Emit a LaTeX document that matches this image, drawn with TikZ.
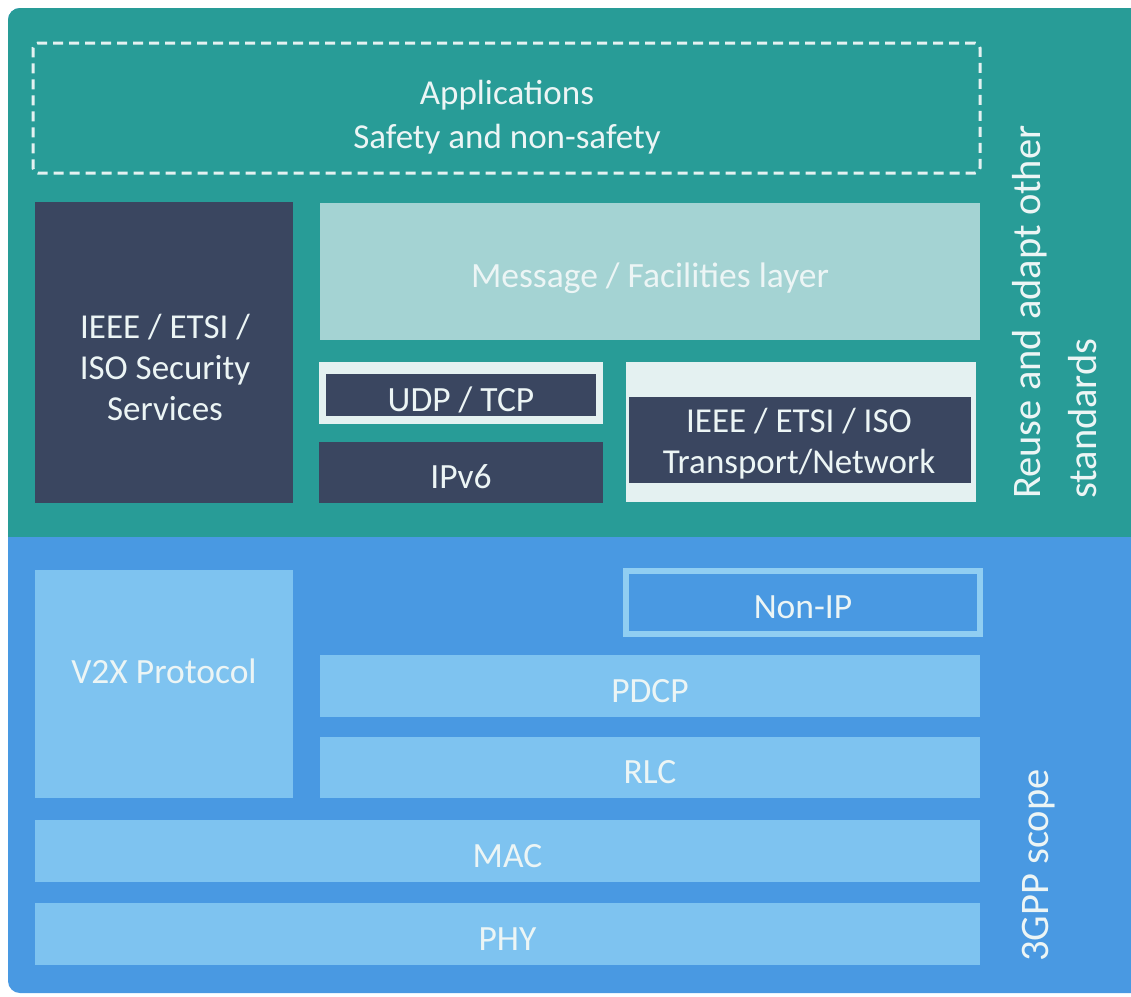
\documentclass[tikz,border=0pt]{standalone}
\usepackage{fontspec}
\setmainfont{Carlito}
\definecolor{panelteal}{RGB}{40,156,151}
\definecolor{panelblue}{RGB}{73,153,226}
\definecolor{navybox}{RGB}{58,70,96}
\definecolor{paleteal}{RGB}{164,211,211}
\definecolor{frameline}{RGB}{228,241,241}
\definecolor{lightblue}{RGB}{126,195,240}
\definecolor{nonipline}{RGB}{144,206,242}
\definecolor{labeltext}{RGB}{236,245,245}
\tikzset{
  blk/.style={anchor=north west, inner sep=0pt, outer sep=0pt},
  lbl/.style={text=labeltext, font=\fontsize{35.5}{41}\selectfont,
              inner sep=0pt, text height=32pt, text depth=0pt},
  mlbl/.style={text=labeltext, font=\fontsize{35}{41}\selectfont,
               align=center, inner sep=0pt},
  vlbl/.style={text=labeltext, font=\fontsize{40.5}{56}\selectfont,
               rotate=90, inner sep=0pt, align=left},
}
\begin{document}
\begin{tikzpicture}[x=1pt,y=-1pt]
\useasboundingbox (0,0) rectangle (1131,996);
\fill[white] (0,0) rectangle (1131,996);

% two coloured bands of the stack
\begin{scope}
  \clip (0,0) rectangle (1131,996);
  \fill[panelblue, rounded corners=12pt] (8,8) rectangle (1160,993);
  \begin{scope}
    \clip[rounded corners=12pt] (8,8) rectangle (1160,993);
    \fill[panelteal] (0,0) rectangle (1160,537);
  \end{scope}
\end{scope}

% applications (dashed)
\node[blk, draw=frameline, line width=3pt, dash pattern=on 10pt off 6pt,
      rounded corners=5pt, minimum width=947pt, minimum height=130pt]
      (apps) at (33,43) {};
\node[mlbl] (appstxt) at (507,117) {Applications\\[3pt]Safety and non-safety};

% upper (teal) part
\node[blk, fill=navybox, minimum width=258pt, minimum height=301pt] (sec) at (35,202) {};
\node[mlbl] (sectxt) at (165,367) {IEEE / ETSI /\\ISO Security\\Services};

\node[blk, fill=paleteal, minimum width=660pt, minimum height=137pt] (msg) at (320,203) {};
\node[lbl] (msgtxt) at (msg.center) {Message / Facilities layer};

\node[blk, fill=frameline, minimum width=284pt, minimum height=62pt] (udpf) at (319,362) {};
\node[blk, fill=navybox, minimum width=270pt, minimum height=42pt] (udp) at (326,374) {};
\node[lbl] (udptxt) at (udp.center) {UDP / TCP};

\node[blk, fill=navybox, minimum width=284pt, minimum height=61pt] (ipv6) at (319,442) {};
\node[lbl] (ipv6txt) at (ipv6.center) {IPv6};

\node[blk, fill=frameline, minimum width=350pt, minimum height=140pt] (itsf) at (626,362) {};
\node[blk, fill=navybox, minimum width=342pt, minimum height=86pt] (its) at (629,397) {};
\node[mlbl] (itstxt) at (799,444) {IEEE / ETSI / ISO\\Transport/Network};

\node[vlbl, anchor=south west] (reuse) at (1097,499) {Reuse and adapt other\\standards};

% lower (blue) part
\node[blk, fill=lightblue, minimum width=258pt, minimum height=228pt] (v2x) at (35,570) {};
\node[lbl] (v2xtxt) at (164,667) {V2X Protocol};

\node[draw=nonipline, line width=6pt, inner sep=0pt, outer sep=0pt,
      minimum width=354pt, minimum height=63pt] (nonip) at (803,602.5) {};
\node[lbl] (noniptxt) at (nonip.center) {Non-IP};

\node[blk, fill=lightblue, minimum width=660pt, minimum height=62pt] (pdcp) at (320,655) {};
\node[lbl] (pdcptxt) at (pdcp.center) {PDCP};
\node[blk, fill=lightblue, minimum width=660pt, minimum height=61pt] (rlc) at (320,737) {};
\node[lbl] (rlctxt) at (rlc.center) {RLC};
\node[blk, fill=lightblue, minimum width=945pt, minimum height=62pt] (mac) at (35,820) {};
\node[lbl] (mactxt) at (mac.center) {MAC};
\node[blk, fill=lightblue, minimum width=945pt, minimum height=62pt] (phy) at (35,903) {};
\node[lbl] (phytxt) at (phy.center) {PHY};

\node[vlbl, anchor=base west] (scope3gpp) at (1048,962) {3GPP scope};
\end{tikzpicture}
\end{document}
